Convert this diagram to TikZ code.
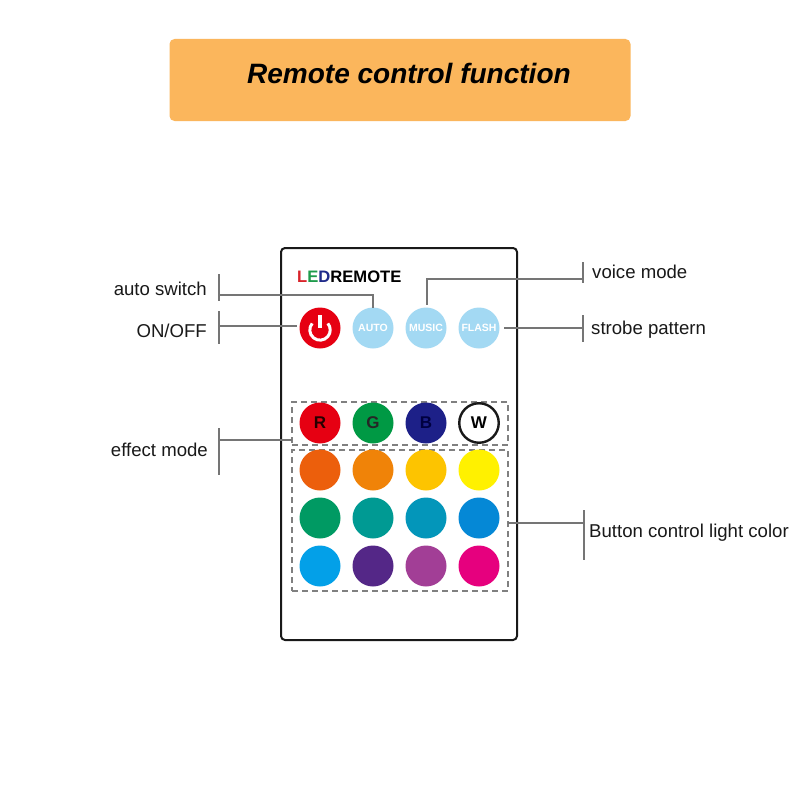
\documentclass[tikz,border=0pt]{standalone}
\usepackage{fontspec}
\setmainfont{Liberation Sans}
\definecolor{barcol}{HTML}{FBB65C}
\definecolor{leader}{HTML}{757575}
\definecolor{dashcol}{HTML}{808080}
\definecolor{skyb}{HTML}{A3D9F3}
\definecolor{redb}{HTML}{E60012}
\definecolor{greenb}{HTML}{009944}
\definecolor{blueb}{HTML}{1D2088}
\tikzset{
  x=1pt,y=-1pt,
  btn/.style={circle,minimum size=41pt,inner sep=0pt,outer sep=0pt,fill=#1,font=\bfseries\fontsize{17}{17}\selectfont},
  sky/.style={circle,minimum size=41pt,inner sep=0pt,outer sep=0pt,fill=skyb,text=white,font=\bfseries\fontsize{10.5}{10.5}\selectfont},
  lab/.style={inner sep=0pt,font=\fontsize{18.6}{22}\selectfont,text=black!90},
  leadline/.style={draw=leader,line width=1.3pt},
  dashbox/.style={draw=dashcol,line width=1.1pt,dash pattern=on 6pt off 4pt},
}
\begin{document}
\begin{tikzpicture}
\useasboundingbox (0,0) rectangle (800,800);
\fill[white] (0,0) rectangle (800,800);
% title
\node[fill=barcol,rounded corners=5pt,minimum width=461pt,minimum height=82pt,inner sep=0pt] (bar) at (400,80) {};
\node[inner sep=0pt,anchor=base west,font=\bfseries\itshape\fontsize{28}{28}\selectfont,text=black] (title) at (247,84) {Remote control function};
% body
\draw[black!90,line width=2pt,rounded corners=4pt] (281,248) rectangle (517,640);
\node[inner sep=0pt,anchor=base west,font=\bfseries\fontsize{16.6}{17}\selectfont] (brand) at (297,282) {\textcolor[HTML]{D8232A}{L}\textcolor[HTML]{1E9B4B}{E}\textcolor[HTML]{1F2A8A}{D}REMOTE};
% dashed groups
\node[dashbox,minimum width=216pt,minimum height=43pt,inner sep=0pt,outer sep=0pt] (grpa) at (400,423.5) {};
\node[dashbox,minimum width=216pt,minimum height=141pt,inner sep=0pt,outer sep=0pt] (grpb) at (400,520.5) {};
% top buttons
\node[btn=redb] (pw) at (320,328) {};
\draw[white,line width=3pt] (312.2,323.4) arc[start angle=220,end angle=-40,radius=10.2];
\draw[white,line width=3.4pt] (320,315) -- (320,328);
\node[sky] (auto) at (373,328) {AUTO};
\node[sky] (music) at (426,328) {MUSIC};
\node[sky] (flash) at (479,328) {FLASH};
% RGBW
\node[btn=redb] (r) at (320,423) {\textcolor{black!85!red}{R}};
\node[btn=greenb] (g) at (373,423) {\textcolor{black!85}{G}};
\node[btn=blueb] (b) at (426,423) {\textcolor{black!75!blue}{B}};
\node[btn=white,draw=black!90,line width=2.4pt,minimum size=39.5pt] (w) at (479,423) {W};
% colour rows
\foreach \n/\cx/\cy/\c in {
 c1/320/470/EC5F0C,c2/373/470/F08308,c3/426/470/FDC400,c4/479/470/FFF100,
 c5/320/518/009A63,c6/373/518/009A93,c7/426/518/0396BA,c8/479/518/0588D6,
 c9/320/566/03A0E8,c10/373/566/542787,c11/426/566/A23E96,c12/479/566/E6007E}{
  \definecolor{tmpc}{HTML}{\c}
  \node[btn=tmpc] (\n) at (\cx,\cy) {};
}
% labels
\node[lab,anchor=base east] (lauto) at (207,295) {auto switch};
\node[lab,anchor=base east] (lon) at (207,337) {ON/OFF};
\node[lab,anchor=base east] (leff) at (208,456) {effect mode};
\node[lab,anchor=base west] (lvoice) at (592,278) {voice mode};
\node[lab,anchor=base west] (lstrobe) at (591,334) {strobe pattern};
\node[lab,anchor=base west] (lbtn) at (589,537) {Button control light color};
% bars
\coordinate (ba1) at (219,274); \coordinate (ba2) at (219,301);
\coordinate (bo1) at (219,311); \coordinate (bo2) at (219,344);
\coordinate (be1) at (219,428); \coordinate (be2) at (219,475);
\coordinate (bv1) at (583,262); \coordinate (bv2) at (583,283);
\coordinate (bs1) at (583,315); \coordinate (bs2) at (583,342);
\coordinate (bb1) at (584,510); \coordinate (bb2) at (584,560);
\foreach \p/\q in {ba1/ba2,bo1/bo2,be1/be2,bv1/bv2,bs1/bs2,bb1/bb2}{\draw[leadline] (\p) -- (\q);}
% leaders
\coordinate (ja) at (219,295);
\coordinate (jo) at (219,326);
\coordinate (je) at (219,440);
\coordinate (jv) at (583,279);
\coordinate (js) at (583,328);
\coordinate (jb) at (584,523);
\coordinate (eo) at (297,326);
\coordinate (ev) at (427,305);
\coordinate (es) at (504,328);
\draw[leadline] (ja) -| (auto.north);
\draw[leadline] (jo) -- (eo);
\draw[leadline] (jv) -| (ev);
\draw[leadline] (js) -- (es);
\draw[leadline] (je) -- (grpa.west |- je);
\draw[leadline] (jb) -- (grpb.east |- jb);
\end{tikzpicture}
\end{document}
